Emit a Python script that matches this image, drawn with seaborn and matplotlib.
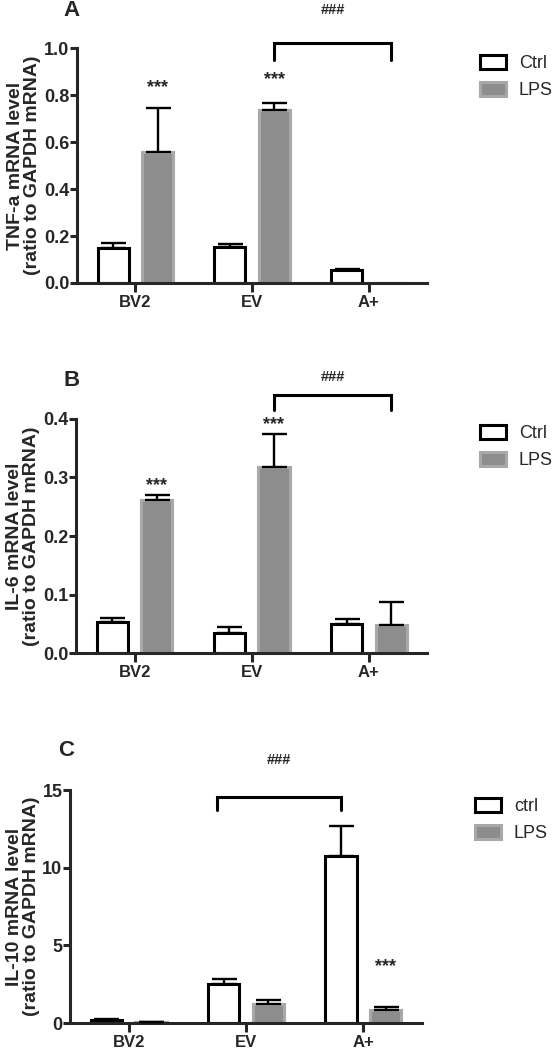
import numpy as np
import pandas as pd
import seaborn as sns
import matplotlib
matplotlib.use("Agg")
import matplotlib.pyplot as plt

# values
groups = ['BV2', 'EV', 'A+']

tnf_ctrl = [0.150, 0.155, 0.055]
tnf_ctrl_err = [0.020, 0.012, 0.006]
tnf_lps = [0.560, 0.735, 0.0]
tnf_lps_err = [0.185, 0.030, 0.0]

il6_ctrl = [0.053, 0.035, 0.050]
il6_ctrl_err = [0.007, 0.009, 0.009]
il6_lps = [0.262, 0.318, 0.048]
il6_lps_err = [0.008, 0.057, 0.040]

il10_ctrl = [0.20, 2.50, 10.75]
il10_ctrl_err = [0.03, 0.35, 1.95]
il10_lps = [0.05, 1.25, 0.85]
il10_lps_err = [0.01, 0.20, 0.20]

sns.set_theme(style="ticks")
plt.rcParams['font.family'] = ['Liberation Sans', 'DejaVu Sans']

LPS_FILL = '#8d8d8d'
LPS_EDGE = '#a8a8a8'
LW = 2.2


def make_df(ctrl, lps, ctrl_name):
    return pd.DataFrame({
        'group': groups * 2,
        'value': list(ctrl) + list(lps),
        'treat': [ctrl_name] * 3 + ['LPS'] * 3,
    })


def panel(ax, ctrl, ctrl_err, lps, lps_err, ctrl_name, ylim, yticks, yfmt, ylabel):
    df = make_df(ctrl, lps, ctrl_name)
    sns.barplot(data=df, x='group', y='value', hue='treat', ax=ax,
                width=0.76, gap=0.3, palette=['white', LPS_FILL],
                errorbar=None, legend=True, zorder=2)
    for bar in ax.containers[0]:
        bar.set_edgecolor('black')
        bar.set_linewidth(LW)
        bar.set_facecolor('white')
    for bar in ax.containers[1]:
        bar.set_edgecolor(LPS_EDGE)
        bar.set_linewidth(LW)
    # one-sided (upper) error bars
    for cont, vals, errs in [(ax.containers[0], ctrl, ctrl_err), (ax.containers[1], lps, lps_err)]:
        xs = [b.get_x() + b.get_width() / 2 for b in cont]
        for x, v, e in zip(xs, vals, errs):
            if e <= 0:
                continue
            ax.errorbar(x, v, yerr=[[0], [e]], fmt='none', ecolor='black',
                        elinewidth=1.7, capsize=9, capthick=1.7, zorder=3)
    ax.set_xlim(-0.5, 2.5)
    ax.set_ylim(*ylim)
    ax.set_yticks(yticks)
    ax.set_yticklabels([yfmt.format(t) for t in yticks])
    ax.set_xlabel('')
    ax.set_ylabel(ylabel, fontsize=14, fontweight='bold', linespacing=1.0, labelpad=2)
    sns.despine(ax=ax)
    for s in ['left', 'bottom']:
        ax.spines[s].set_linewidth(LW)
    ax.tick_params(axis='y', length=5, width=LW, labelsize=13, pad=0.5)
    ax.tick_params(axis='x', length=6.5, width=LW, labelsize=12, pad=2)
    for t in ax.get_xticklabels() + ax.get_yticklabels():
        t.set_fontweight('bold')
    h, l = ax.get_legend_handles_labels()
    ax.get_legend().remove()
    for p in h:
        p.set_linewidth(LW)
    h[0].set_edgecolor('black')
    h[1].set_edgecolor(LPS_EDGE)
    return h, l


def centers(ax, k):
    return [b.get_x() + b.get_width() / 2 for b in ax.containers[k]]


def bracket(ax, x0, x1, y, leg, label, label_y):
    ax.plot([x0, x0, x1, x1], [leg, y, y, leg], color='black', lw=LW,
            clip_on=False, solid_joinstyle='miter')
    ax.text((x0 + x1) / 2, label_y, label, ha='center', va='center',
            fontsize=10.5, fontweight='bold')


def stars(ax, x, y):
    ax.text(x, y, '***', ha='center', va='center', fontsize=13, fontweight='bold')


def add_legend(fig, ax, h, l, x, y):
    ax.legend(h, l, loc='center left', bbox_to_anchor=(x, y),
              bbox_transform=fig.transFigure, frameon=False, fontsize=13,
              handlelength=1.45, handleheight=0.8, handletextpad=0.7,
              labelspacing=0.55, borderaxespad=0, borderpad=0)


fig = plt.figure(figsize=(5.56, 10.5), dpi=100)

# panel A
axA = fig.add_axes([0.1385, 0.7305, 0.630, 0.2235])
h, l = panel(axA, tnf_ctrl, tnf_ctrl_err, tnf_lps, tnf_lps_err, 'Ctrl',
             (0, 1.0), [0, 0.2, 0.4, 0.6, 0.8, 1.0], '{:.1f}',
             'TNF-a mRNA level\n(ratio to GAPDH mRNA)')
lx = centers(axA, 1)
bracket(axA, lx[1], lx[2], 1.021, 0.949, '###', 1.162)
stars(axA, lx[0], 0.834)
stars(axA, lx[1], 0.868)
add_legend(fig, axA, h, l, 480 / 556, 1 - 77 / 1050)

# panel B
axB = fig.add_axes([0.1367, 0.378, 0.632, 0.223])
h, l = panel(axB, il6_ctrl, il6_ctrl_err, il6_lps, il6_lps_err, 'Ctrl',
             (0, 0.4), [0, 0.1, 0.2, 0.3, 0.4], '{:.1f}',
             'IL-6 mRNA level\n(ratio to GAPDH mRNA)')
lx = centers(axB, 1)
bracket(axB, lx[1], lx[2], 0.441, 0.415, '###', 0.472)
stars(axB, lx[0], 0.287)
stars(axB, lx[1], 0.391)
add_legend(fig, axB, h, l, 480 / 556, 1 - 447 / 1050)

# panel C
axC = fig.add_axes([0.126, 0.0257, 0.633, 0.2219])
h, l = panel(axC, il10_ctrl, il10_ctrl_err, il10_lps, il10_lps_err, 'ctrl',
             (0, 15), [0, 5, 10, 15], '{:.0f}',
             'IL-10 mRNA level\n(ratio to GAPDH mRNA)')
cx = centers(axC, 0)
lx = centers(axC, 1)
bracket(axC, cx[1] - 0.06, cx[2], 14.57, 13.7, '###', 16.93)
stars(axC, lx[2], 3.63)
add_legend(fig, axC, h, l, 475 / 556, 1 - 820 / 1050)

# panel letters
fig.text(72 / 556, 1 - 11 / 1050, 'A', fontsize=16, fontweight='bold', ha='center', va='center')
fig.text(72 / 556, 1 - 380 / 1050, 'B', fontsize=16, fontweight='bold', ha='center', va='center')
fig.text(66 / 556, 1 - 751 / 1050, 'C', fontsize=16, fontweight='bold', ha='center', va='center')

fig.savefig('out.png', dpi=100)
